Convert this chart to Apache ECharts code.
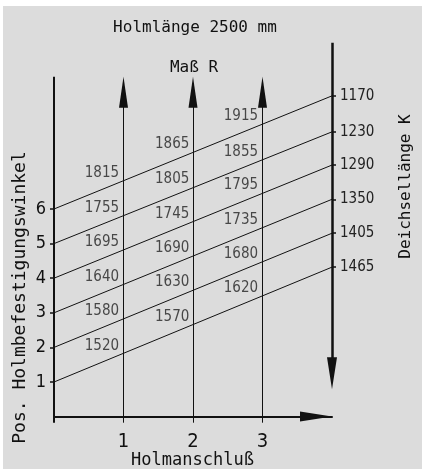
<!DOCTYPE html>
<html>
<head>
<meta charset="utf-8">
<script src="https://cdn.jsdelivr.net/npm/echarts@6/dist/echarts.min.js"></script>
<style>
  html, body { margin: 0; padding: 0; background: #fff; }
  #bg { position: absolute; left: 3px; top: 6px; width: 419px; height: 463px; background: #dcdcdc; }
  #chart { position: absolute; left: 0; top: 0; width: 422px; height: 470px; }
</style>
</head>
<body>
<div id="bg"></div>
<div id="chart"></div>
<script>
// Pos. Holmbefestigungswinkel (left scale) and Deichsellänge K (right end of each line)
const positions = [1, 2, 3, 4, 5, 6];
const kValues = [1465, 1405, 1350, 1290, 1230, 1170];
// height of each line where it meets the K axis (x = 4), in left-scale units
const lineEnds = [4.32, 5.30, 6.28, 7.27, 8.23, 9.27];
// Maß R printed above each line, one list per column
const rCol1 = [1520, 1580, 1640, 1695, 1755, 1815];
const rCol2 = [1570, 1630, 1690, 1745, 1805, 1865];
const rCol3 = [1620, 1680, 1735, 1795, 1855, 1915];
const rColumns = [rCol1, rCol2, rCol3];
const labelX = [0.69, 1.70, 2.69];
const xTicks = [1, 2, 3];

const yMin = -0.176;
const yMax = 10.806;
const MONO = '"DejaVu Sans Mono", monospace';
const NUM = '"Liberation Sans Narrow", "DejaVu Sans Condensed", sans-serif';
const INK = '#111';

const chart = echarts.init(document.getElementById('chart'));

const lineSeries = positions.map((p, i) => ({
  type: 'line',
  data: [[0, p], [4, lineEnds[i]]],
  symbol: 'none',
  clip: false,
  silent: true,
  lineStyle: { color: INK, width: 1 },
}));

// R labels sit on their line, a bit above it
const labelData = [];
rColumns.forEach((col, c) => {
  col.forEach((r, i) => {
    const p = positions[i];
    const y = p + (lineEnds[i] - p) * labelX[c] / 4;
    labelData.push({ value: [labelX[c], y], r: r });
  });
});

const kFor = v => {
  let best = 0;
  lineEnds.forEach((e, i) => {
    if (Math.abs(e - v) < Math.abs(lineEnds[best] - v)) best = i;
  });
  return kValues[best];
};

// axis lines and arrows drawn as marker lines in data space
const arrowSym = { symbol: 'triangle', symbolSize: [9, 31] };
const markData = xTicks.map(x => [
  { coord: [x, yMin], symbol: 'none' },
  Object.assign({ coord: [x, 9.376] }, arrowSym),
]);
markData.push([
  { coord: [0, yMin], symbol: 'none', lineStyle: { width: 2 } },
  { coord: [0, 9.824], symbol: 'none' },
]);
markData.push([
  { coord: [4, yMax], symbol: 'none', lineStyle: { width: 2.5 } },
  { coord: [4, 1.251], symbol: 'triangle', symbolSize: [10, 32] },
]);

lineSeries[0].markLine = {
  silent: true,
  animation: false,
  label: { show: false },
  lineStyle: { color: INK, width: 1, type: 'solid' },
  symbol: ['none', 'triangle'],
  data: markData,
};

chart.setOption({
  animation: false,
  grid: { left: 54, right: 90, top: 42.7, bottom: 47.3, outerBoundsMode: 'none' },
  xAxis: {
    type: 'value',
    min: 0,
    max: 4,
    interval: 1,
    splitLine: { show: false },
    axisTick: { show: false },
    axisLine: {
      lineStyle: { color: INK, width: 2 },
      symbol: ['none', 'triangle'],
      symbolSize: [10, 32],
      symbolOffset: [0, -16],
    },
    axisLabel: {
      margin: 9,
      fontFamily: NUM,
      fontSize: 20,
      color: INK,
      formatter: v => (v > 0 && v < 4 ? String(v) : ''),
    },
  },
  yAxis: [
    {
      type: 'value',
      min: yMin,
      max: yMax,
      splitLine: { show: false },
      axisLine: { show: false },
      axisTick: {
        show: true,
        length: 4,
        customValues: positions,
        lineStyle: { color: INK, width: 1.5 },
      },
      axisLabel: {
        margin: 8,
        fontFamily: NUM,
        fontSize: 18,
        color: INK,
        customValues: positions,
      },
    },
    {
      type: 'value',
      position: 'right',
      min: yMin,
      max: yMax,
      splitLine: { show: false },
      axisLine: { show: false },
      axisTick: {
        show: true,
        length: 4,
        customValues: lineEnds,
        lineStyle: { color: INK, width: 1.5 },
      },
      axisLabel: {
        margin: 8,
        fontFamily: NUM,
        fontSize: 15,
        color: '#222',
        customValues: lineEnds,
        formatter: v => String(kFor(v)),
      },
    },
  ],
  series: lineSeries.concat([
    {
      type: 'scatter',
      data: labelData,
      symbolSize: 0,
      silent: true,
      label: {
        show: true,
        position: 'inside',
        offset: [0, -16.5],
        fontFamily: NUM,
        fontSize: 15,
        color: '#222',
        formatter: p => String(p.data.r),
      },
    },
  ]),
  graphic: [
    {
      type: 'text', x: 195, y: 28,
      style: { text: 'Holmlänge 2500 mm', font: '16px ' + MONO, fill: INK, align: 'center', verticalAlign: 'middle' },
    },
    {
      type: 'text', x: 194, y: 67.5,
      style: { text: 'Maß R', font: '16px ' + MONO, fill: INK, align: 'center', verticalAlign: 'middle' },
    },
    {
      type: 'text', x: 192.5, y: 461,
      style: { text: 'Holmanschluß', font: '17px ' + MONO, fill: INK, align: 'center', verticalAlign: 'middle' },
    },
    {
      type: 'text', x: 20, y: 297.5, rotation: Math.PI / 2,
      style: { text: 'Pos. Holmbefestigungswinkel', font: '18px ' + MONO, fill: INK, align: 'center', verticalAlign: 'middle' },
    },
    {
      type: 'text', x: 406, y: 186.5, rotation: Math.PI / 2,
      style: { text: 'Deichsellänge K', font: '16px ' + MONO, fill: INK, align: 'center', verticalAlign: 'middle' },
    },
  ],
});
</script>
</body>
</html>
